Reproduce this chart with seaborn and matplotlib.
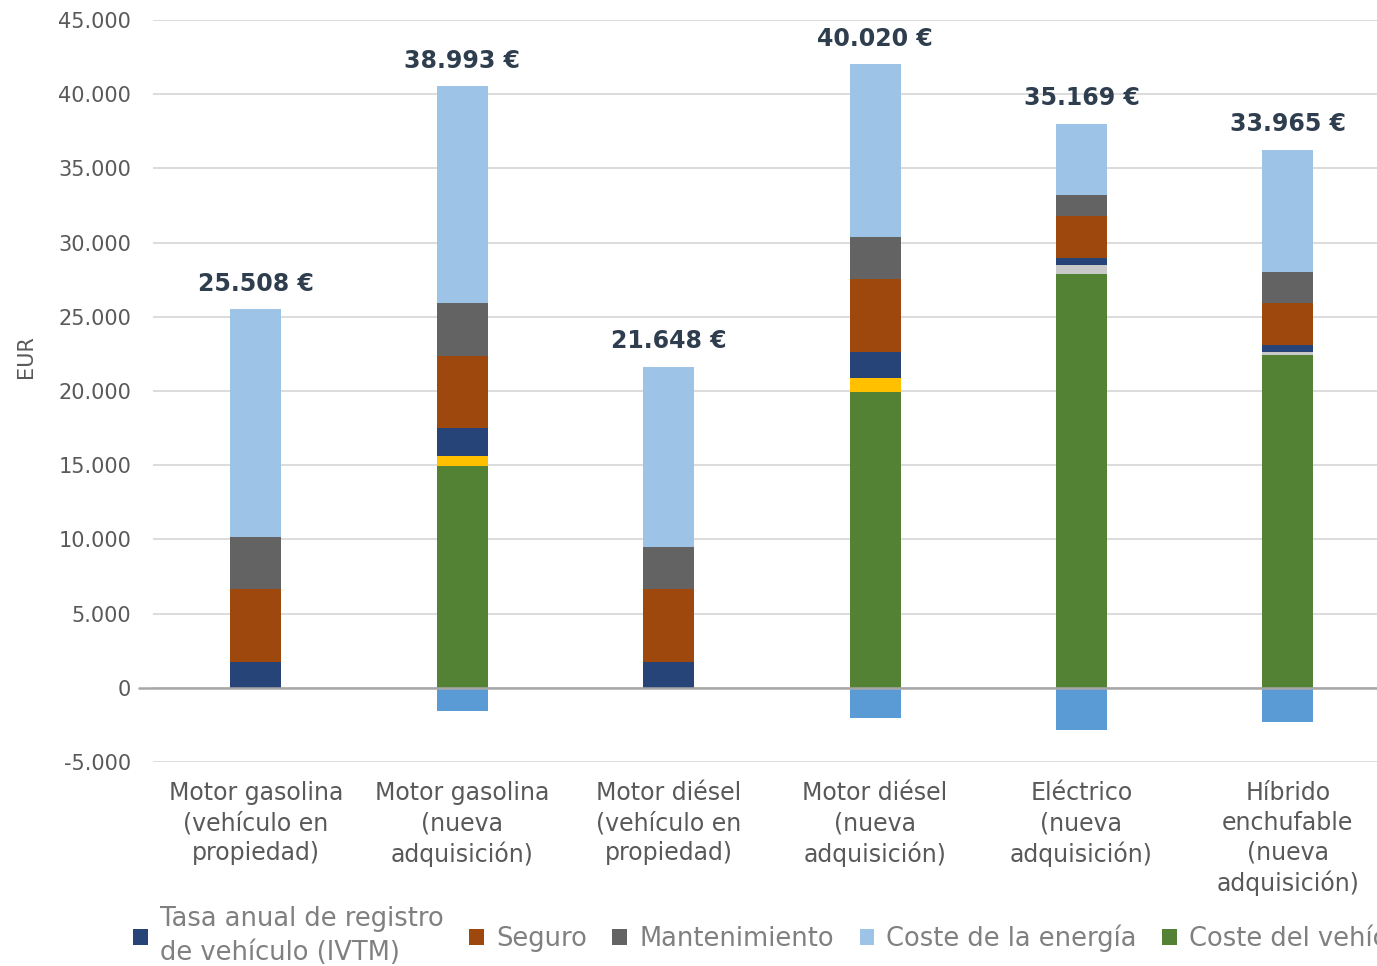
import matplotlib
matplotlib.use("Agg")
import matplotlib.pyplot as plt
import matplotlib.ticker as mticker
from matplotlib.patches import Patch
import numpy as np
import seaborn as sns

categories = ["Motor gasolina\n(vehículo en\npropiedad)",
              "Motor gasolina\n(nueva\nadquisición)",
              "Motor diésel\n(vehículo en\npropiedad)",
              "Motor diésel\n(nueva\nadquisición)",
              "Eléctrico\n(nueva\nadquisición)",
              "Híbrido\nenchufable\n(nueva\nadquisición)"]

coste_vehiculo = [0, 14930, 0, 19900, 27900, 22430]
impuesto_matriculacion = [0, 720, 0, 960, 0, 0]
punto_recarga = [0, 0, 0, 0, 620, 200]
ivtm = [1710, 1870, 1710, 1790, 460, 450]
seguro = [4950, 4860, 4950, 4890, 2800, 2820]
mantenimiento = [3480, 3550, 2810, 2850, 1400, 2100]
energia = [15368, 14613, 12178, 11650, 4839, 8265]
valor_residual = [0, -1550, 0, -2020, -2850, -2300]
totales = [25508, 38993, 21648, 40020, 35169, 33965]

series = [
    ("Tasa anual de registro\nde vehículo (IVTM)", ivtm, "#264478"),
    ("Seguro", seguro, "#9E480E"),
    ("Mantenimiento", mantenimiento, "#636363"),
    ("Coste de la energía", energia, "#9DC3E6"),
    ("Coste del vehículo", coste_vehiculo, "#548235"),
    ("Impuesto de matriculación", impuesto_matriculacion, "#FFC000"),
    ("Punto de recarga", punto_recarga, "#C9C9C9"),
    ("Valor residual", valor_residual, "#5B9BD5"),
]
stack_order = [coste_vehiculo, impuesto_matriculacion, punto_recarga, ivtm, seguro, mantenimiento, energia]
stack_colors = ["#548235", "#FFC000", "#C9C9C9", "#264478", "#9E480E", "#636363", "#9DC3E6"]

sns.set_theme(style="white")
plt.rcParams['font.family'] = ['DejaVu Sans']

W, H = 1377, 966
fig = plt.figure(figsize=(W / 100, H / 100), dpi=100)
ax_left, ax_right = 152.8, 1391
ax_top, ax_bot = 20, 762
ax = fig.add_axes([ax_left / W, (H - ax_bot) / H, (ax_right - ax_left) / W, (ax_bot - ax_top) / H])

bw = 0.247
cum = np.cumsum(np.array(stack_order, dtype=float), axis=0)
for i in range(len(stack_order) - 1, -1, -1):
    sns.barplot(x=list(range(6)), y=cum[i], color=stack_colors[i], saturation=1,
                width=bw, linewidth=0, ax=ax)
sns.barplot(x=list(range(6)), y=valor_residual, color="#5B9BD5", saturation=1,
            width=bw, linewidth=0, ax=ax)

ax.set_xlim(-0.5, 5.5)
ax.set_ylim(-5000, 45000)
ax.set_yticks(np.arange(-5000, 45001, 5000))
ax.yaxis.set_major_formatter(mticker.FuncFormatter(lambda v, p: f"{int(v):,}".replace(",", ".")))
ax.grid(axis="y", color="#D9D9D9", linewidth=1.3)
ax.set_axisbelow(True)
for s in ax.spines.values():
    s.set_visible(False)
ax.axhline(0, xmin=-0.011, xmax=1, color="#A6A6A6", linewidth=1.8, clip_on=False, zorder=5)
ax.tick_params(axis="y", length=0, pad=15.5, labelsize=15, labelcolor="#595959")
ax.tick_params(axis="x", length=0, pad=14, labelsize=17, labelcolor="#595959")
ax.set_xticks(range(6))
ax.set_xticklabels(categories)
for t in ax.get_xticklabels():
    t.set_linespacing(1.3)
ax.set_xlabel("")
ax.set_ylabel("EUR", fontsize=15, color="#595959")
ax.yaxis.set_label_coords((36 - ax_left) / (ax_right - ax_left), (ax_bot - 357) / (ax_bot - ax_top))

tops = cum[-1]
for i, t in enumerate(totales):
    ax.text(i, tops[i] + 1700, f"{t:,}".replace(",", ".") + " €", ha="center", va="center",
            fontsize=17, fontweight="bold", color="#2F3E4E")

handles = [Patch(facecolor=c, edgecolor="none") for _, _, c in series]
labels = [n for n, _, _ in series]
leg = fig.legend(handles, labels, loc="center left", bbox_to_anchor=(133 / W, 1 - 936 / H),
                 ncol=8, frameon=False, fontsize=18.5, labelcolor="#808080",
                 handlelength=0.58, handleheight=0.58, handletextpad=0.46, columnspacing=1.0,
                 borderaxespad=0, borderpad=0)
for t in leg.get_texts():
    t.set_linespacing(1.45)

fig.savefig("out.png", dpi=100)
